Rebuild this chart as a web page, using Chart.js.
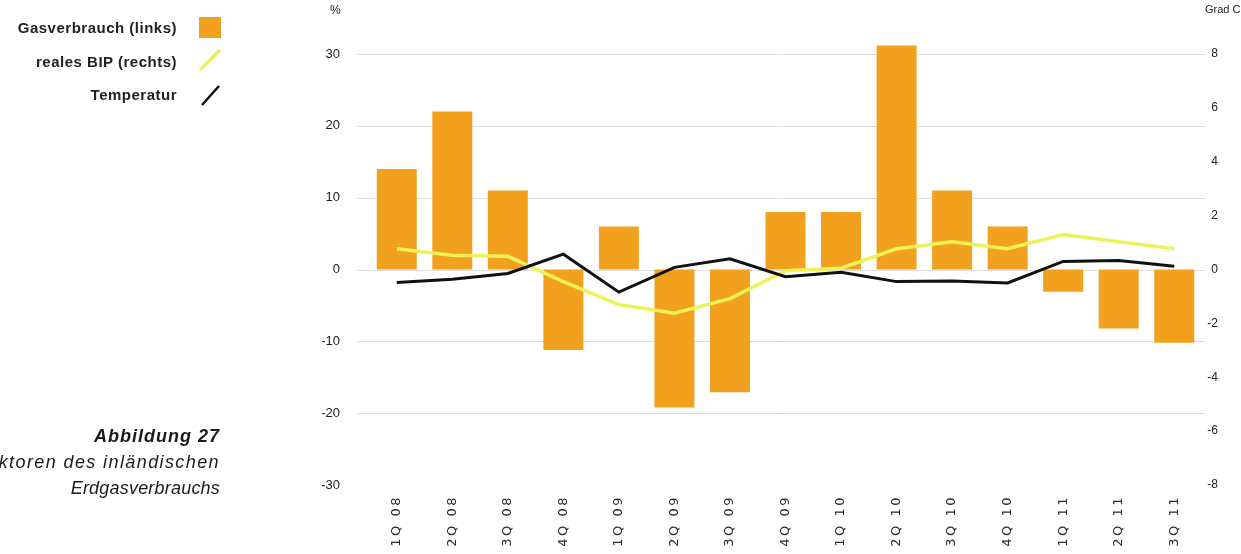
<!DOCTYPE html>
<html>
<head>
<meta charset="utf-8">
<script src="https://cdn.jsdelivr.net/npm/chart.js@4/dist/chart.umd.min.js"></script>
<style>
  html, body { margin: 0; padding: 0; background: #fff; }
  #wrap { position: relative; width: 1241px; height: 554px; overflow: hidden; }
  canvas { position: absolute; left: 0; top: 0; }
  .t { position: absolute; font-family: "Liberation Sans", Arial, sans-serif; color: #1a1a1a; white-space: nowrap; }
  .leg { font-size: 15px; font-weight: bold; right: 1064px; letter-spacing: 0.5px; color: #222; }
  .cap { font-size: 18px; right: 1021px; font-style: italic; }
  .unit { font-size: 12px; color: #222; }
</style>
</head>
<body>
<div id="wrap">
  <canvas id="c" width="1241" height="554"></canvas>
  <div class="t leg" style="top:19px;">Gasverbrauch (links)</div>
  <div class="t leg" style="top:53px;">reales BIP (rechts)</div>
  <div class="t leg" style="top:86px;">Temperatur</div>
  <div style="position:absolute;left:199px;top:17px;width:22px;height:21px;background:#F2A11F;"></div>
  <svg style="position:absolute;left:0;top:0;" width="240" height="120">
    <line x1="200" y1="70" x2="220" y2="50" stroke="#EEF25A" stroke-width="3.5"/>
    <line x1="202" y1="105" x2="219" y2="86" stroke="#111" stroke-width="2.5"/>
  </svg>
  <div class="t cap" style="top:426px;font-weight:bold;letter-spacing:1px;">Abbildung 27</div>
  <div class="t cap" style="top:452px;letter-spacing:1.4px;">ktoren des inländischen</div>
  <div class="t cap" style="top:478px;letter-spacing:0.2px;">Erdgasverbrauchs</div>
  <div class="t unit" style="left:330px;top:3px;">%</div>
  <div class="t unit" style="left:1205px;top:3px;font-size:11px;">Grad C</div>
</div>
<script>
const categories = ["1Q 08","2Q 08","3Q 08","4Q 08","1Q 09","2Q 09","3Q 09","4Q 09","1Q 10","2Q 10","3Q 10","4Q 10","1Q 11","2Q 11","3Q 11"];
const gasverbrauch = [14, 22, 11, -11.2, 6, -19.2, -17.1, 8, 8, 31.2, 11, 6, -3.1, -8.2, -10.2];
const realesBIP = [0.77, 0.53, 0.49, -0.45, -1.3, -1.62, -1.08, -0.05, 0.05, 0.77, 1.03, 0.77, 1.3, 1.03, 0.77];
const temperatur = [-0.48, -0.36, -0.15, 0.57, -0.84, 0.08, 0.4, -0.27, -0.1, -0.45, -0.43, -0.5, 0.3, 0.33, 0.12];
const leftTicks = { min: -30, max: 30, step: 10 };
const rightTicks = { min: -8, max: 8, step: 2 };
const gridValues = [30, 20, 10, 0, -10, -20];

class SpacedCategory extends Chart.CategoryScale {
  drawLabels(area) {
    const ctx = this.ctx;
    const prev = ctx.letterSpacing;
    try { ctx.letterSpacing = '2.5px'; } catch (e) {}
    super.drawLabels(area);
    try { ctx.letterSpacing = prev || '0px'; } catch (e) {}
  }
}
SpacedCategory.id = 'spacedCategory';
SpacedCategory.defaults = Chart.CategoryScale.defaults;
Chart.register(SpacedCategory);

const gridPlugin = {
  id: 'extGrid',
  beforeDatasetsDraw(chart) {
    const ctx = chart.ctx, y = chart.scales.y, a = chart.chartArea;
    ctx.save();
    ctx.strokeStyle = '#dcdde2';
    ctx.lineWidth = 1;
    gridValues.forEach(v => {
      const py = Math.round(y.getPixelForValue(v)) + 0.5;
      ctx.beginPath();
      ctx.moveTo(a.left - 11, py);
      ctx.lineTo(a.right + 3, py);
      ctx.stroke();
    });
    ctx.restore();
  }
};

new Chart(document.getElementById('c'), {
  data: {
    labels: categories,
    datasets: [
      { type: 'line', label: 'Temperatur', data: temperatur, yAxisID: 'y1', borderColor: '#111111', borderWidth: 3, pointRadius: 0, tension: 0, order: 0 },
      { type: 'line', label: 'reales BIP (rechts)', data: realesBIP, yAxisID: 'y1', borderColor: '#EEF25A', borderWidth: 3.5, pointRadius: 0, tension: 0, order: 1 },
      { type: 'bar', label: 'Gasverbrauch (links)', data: gasverbrauch, yAxisID: 'y', backgroundColor: '#F2A11F', barPercentage: 0.72, categoryPercentage: 1, order: 2, clip: false }
    ]
  },
  plugins: [gridPlugin],
  options: {
    responsive: false,
    animation: false,
    devicePixelRatio: 1,
    layout: { padding: { top: 54, right: 23, left: 0, bottom: 0 } },
    plugins: { legend: { display: false }, tooltip: { enabled: false } },
    scales: {
      x: {
        type: 'spacedCategory',
        offset: true,
        grid: { display: false, drawTicks: false },
        border: { display: false },
        ticks: { minRotation: 90, maxRotation: 90, padding: 10, color: '#2a2a2a', font: { family: 'DejaVu Sans', size: 13 }, autoSkip: false },
        afterFit: s => { s.height = 69; }
      },
      y: {
        position: 'left',
        min: leftTicks.min, max: leftTicks.max,
        grid: { display: false, drawTicks: false },
        border: { display: false },
        ticks: { stepSize: leftTicks.step, padding: 29, color: '#222', font: { family: 'Liberation Sans', size: 13 } },
        afterFit: s => { s.width = 369; }
      },
      y1: {
        position: 'right',
        min: rightTicks.min, max: rightTicks.max,
        grid: { drawOnChartArea: false, drawTicks: false },
        border: { display: false },
        ticks: { stepSize: rightTicks.step, crossAlign: 'far', padding: 4, color: '#222', font: { family: 'Liberation Sans', size: 12 } },
        afterFit: s => { s.width = 16; }
      }
    }
  }
});
</script>
</body>
</html>
